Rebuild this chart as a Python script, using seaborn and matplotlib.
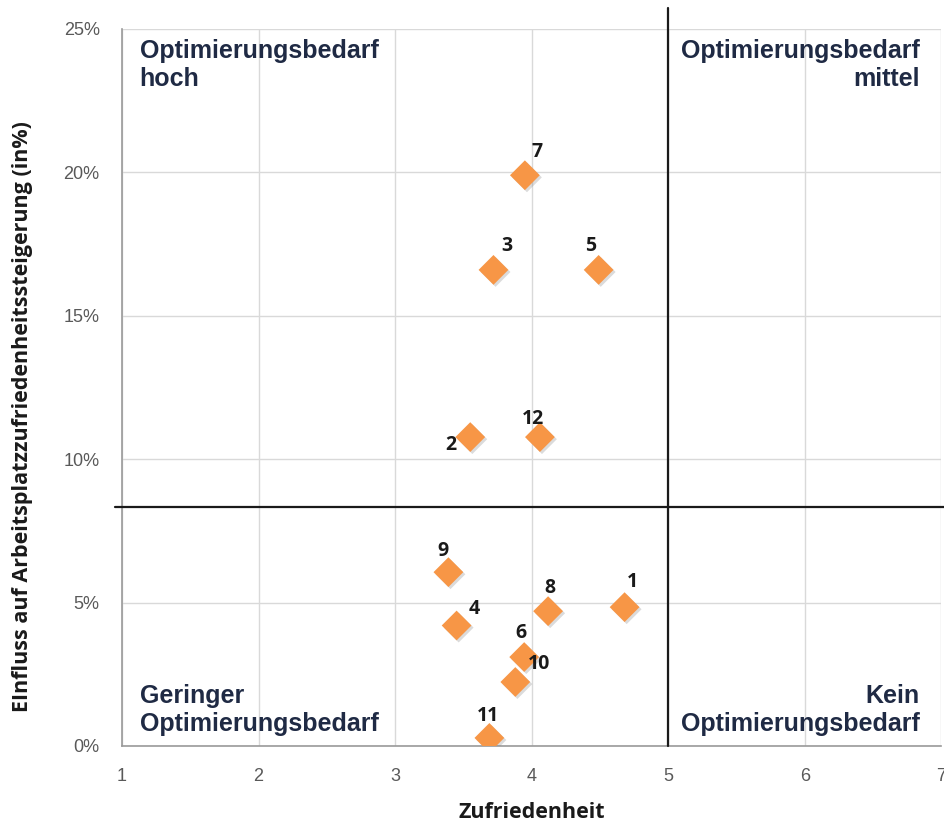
import matplotlib
matplotlib.use("Agg")
import matplotlib.pyplot as plt
import matplotlib.patheffects as pe
import seaborn as sns
import pandas as pd
from matplotlib.ticker import FuncFormatter

labels = ["1", "2", "3", "4", "5", "6", "7", "8", "9", "10", "11", "12"]
zufriedenheit = [4.68, 3.55, 3.72, 3.45, 4.49, 3.945, 3.95, 4.12, 3.39, 3.88, 3.69, 4.06]
einfluss = [4.84, 10.77, 16.6, 4.2, 16.6, 3.1, 19.9, 4.7, 6.06, 2.23, 0.28, 10.77]
# label offsets in points (dx, dy)
label_offsets = [(6, 18), (-14, -6), (10, 17), (13, 12), (-6, 17), (-2, 17),
                 (9, 17), (1, 17), (-4, 15), (17, 13), (-1, 16), (-5, 13)]

x_ticks = [1, 2, 3, 4, 5, 6, 7]
y_ticks = [0, 5, 10, 15, 20, 25]
x_split = 5
y_split = 8.33

df = pd.DataFrame({"Zufriedenheit": zufriedenheit, "Einfluss": einfluss, "label": labels})

sns.set_style("white")
plt.rcParams['font.family'] = ['Liberation Sans', 'DejaVu Sans']

fig = plt.figure(figsize=(9.44, 8.26), dpi=100)
ax = fig.add_axes([0.1292, 0.0969, 0.8681, 0.868])

sns.scatterplot(data=df, x="Zufriedenheit", y="Einfluss", ax=ax, marker="D", s=230,
                color="#F79646", edgecolor="none", zorder=5,
                path_effects=[pe.SimplePatchShadow(offset=(1.5, -1.5), alpha=0.3, shadow_rgbFace="#888888"), pe.Normal()])

for lab, x, y, (dx, dy) in zip(labels, zufriedenheit, einfluss, label_offsets):
    ax.annotate(lab, (x, y), xytext=(dx, dy), textcoords="offset points",
                ha="center", va="center", fontsize=14, fontweight="bold",
                color="#1a1a1a", zorder=6, family=["Open Sans", "DejaVu Sans"])

ax.set_xlim(1, 7)
ax.set_ylim(0, 25)
ax.set_xticks(x_ticks)
ax.set_yticks(y_ticks)
ax.yaxis.set_major_formatter(FuncFormatter(lambda v, p: f"{int(v)}%"))
ax.grid(True, color="#d9d9d9", linewidth=1)
ax.set_axisbelow(True)
for s in ["top", "right"]:
    ax.spines[s].set_visible(False)
for s in ["left", "bottom"]:
    ax.spines[s].set_color("#9a9a9a")
    ax.spines[s].set_linewidth(1.2)
ax.tick_params(axis="both", which="both", length=6, color="#9a9a9a", labelsize=13,
               labelcolor="#595959", direction="out")
ax.tick_params(axis="x", pad=10)
ax.tick_params(axis="y", pad=10)

# quadrant lines
ax.plot([x_split, x_split], [0, 25.73], color="#1a1a1a", lw=1.6, clip_on=False, zorder=4)
ax.plot([0.95, 7.05], [y_split, y_split], color="#1a1a1a", lw=1.6, clip_on=False, zorder=4)

ax.set_xlabel("Zufriedenheit", fontsize=15.5, fontweight="bold", color="#1a1a1a",
              family=["Open Sans", "DejaVu Sans"])
ax.set_ylabel("EInfluss auf Arbeitsplatzzufriedenheitssteigerung (in%)", fontsize=15.5,
              fontweight="bold", color="#1a1a1a", family=["Open Sans", "DejaVu Sans"])
ax.xaxis.set_label_coords(0.5, -0.078)
ax.yaxis.set_label_coords(-0.108, 0.46)

qcol = "#1f2a44"
qfs = 18
ax.text(1.13, 24.65, "Optimierungsbedarf\nhoch", ha="left", va="top", fontsize=qfs, color=qcol,
        fontweight="bold", linespacing=1.2)
ax.text(6.84, 24.65, "Optimierungsbedarf\nmittel", ha="right", va="top", fontsize=qfs, color=qcol,
        fontweight="bold", multialignment="right", linespacing=1.2)
ax.text(1.13, 0.35, "Geringer\nOptimierungsbedarf", ha="left", va="bottom", fontsize=qfs, color=qcol,
        fontweight="bold", linespacing=1.2)
ax.text(6.84, 0.35, "Kein\nOptimierungsbedarf", ha="right", va="bottom", fontsize=qfs, color=qcol,
        fontweight="bold", multialignment="right", linespacing=1.2)

fig.savefig("out.png", dpi=100)
